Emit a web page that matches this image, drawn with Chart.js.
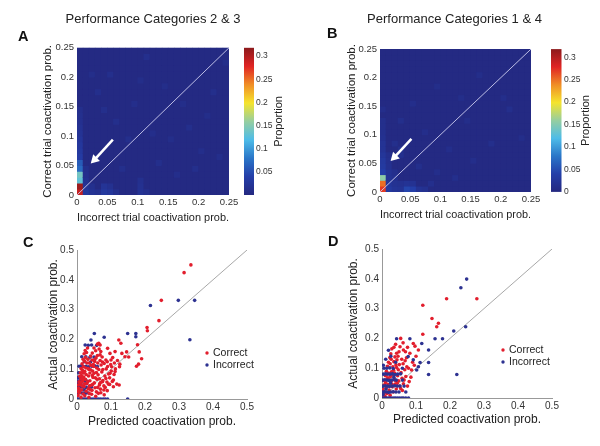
<!DOCTYPE html>
<html>
<head>
<meta charset="utf-8">
<title>Coactivation probability</title>
<script src="https://cdn.jsdelivr.net/npm/chart.js@4.4.1/dist/chart.umd.min.js"></script>
<style>
  body { margin: 0; background: #fff; }
  #fig { position: relative; width: 600px; height: 446px; overflow: hidden; font-family: "Liberation Sans", Arial, sans-serif; }
  #fig canvas { position: absolute; }
  .letter { position: absolute; font-weight: bold; font-size: 14.5px; line-height: 15px; color: #111; }
</style>
</head>
<body>
<div id="fig">
  <canvas id="heatA" width="300" height="230" style="left:0;top:0"></canvas>
  <canvas id="heatB" width="300" height="230" style="left:300px;top:0"></canvas>
  <canvas id="scatC" width="300" height="216" style="left:0;top:230px"></canvas>
  <canvas id="scatD" width="300" height="216" style="left:300px;top:230px"></canvas>
  <div class="letter" style="left:18px;top:29px">A</div>
  <div class="letter" style="left:327px;top:26px">B</div>
  <div class="letter" style="left:23px;top:235px">C</div>
  <div class="letter" style="left:328px;top:234px">D</div>
</div>
<script>
// heatmap bins (0.01 wide, 0 .. 0.25)
const binW = 0.01;
const nBins = 25;
const heatTicks = [0, 0.05, 0.1, 0.15, 0.2, 0.25];
const cbTicksA = [0.05, 0.1, 0.15, 0.2, 0.25, 0.3];
const cbTicksB = [0, 0.05, 0.1, 0.15, 0.2, 0.25, 0.3];
const cbMax = 0.318;
const scatTicks = [0, 0.1, 0.2, 0.3, 0.4, 0.5];

// proportion of every bin not listed below
const heatBaseA = 0.003;
const heatBaseB = 0.003;

// [column, row, proportion]
const heatA = [
  [0,0,0.29],[0,1,0.31],[0,2,0.13],[0,3,0.14],[0,4,0.07],[0,5,0.06],[0,6,0.035],[0,7,0.03],[0,8,0.028],
  [0,9,0.024],[0,10,0.02],[0,11,0.018],[0,12,0.015],[0,13,0.014],[0,14,0.012],
  [1,0,0.03],[1,1,0.022],[1,2,0.016],[1,3,0.013],[1,4,0.012],[2,0,0.02],[2,1,0.014],[3,0,0.016],
  [4,0,0.03],[4,1,0.022],[5,0,0.026],[5,1,0.016],[6,0,0.014],[10,0,0.02],[10,1,0.016],[10,2,0.014],[11,0,0.014],
  [3,17,0.012],[5,20,0.012],[2,20,0.01],[9,15,0.011],[11,23,0.013],[14,18,0.01],[18,11,0.012],[20,7,0.011],
  [22,17,0.012],[6,12,0.012],[13,5,0.012],[16,3,0.011],[19,4,0.012],[21,13,0.01],[8,9,0.012],[12,10,0.011],
  [24,22,0.01],[7,4,0.012],[4,14,0.012],[15,9,0.01],[23,6,0.011],[17,15,0.01],[10,19,0.01]
];
const heatB = [
  [0,0,0.27],[0,1,0.25],[0,2,0.155],[0,3,0.04],[0,4,0.032],[0,5,0.03],[0,6,0.025],[0,7,0.02],[0,8,0.02],
  [0,9,0.016],[0,10,0.014],[0,11,0.012],[0,12,0.012],[0,14,0.011],
  [1,0,0.03],[1,1,0.026],[1,2,0.02],[1,3,0.02],[1,4,0.016],[1,5,0.015],[1,6,0.013],
  [2,0,0.022],[2,1,0.018],[2,2,0.015],[2,3,0.013],[3,0,0.02],[3,1,0.016],[3,6,0.014],[3,7,0.014],
  [4,0,0.045],[5,0,0.04],[4,1,0.02],[5,1,0.018],[6,0,0.02],[7,0,0.016],[8,1,0.013],
  [2,8,0.012],[6,4,0.012],[9,3,0.011],[12,2,0.012],[15,5,0.011],[18,8,0.012],[21,14,0.012],[20,16,0.011],
  [7,10,0.011],[11,7,0.011],[14,12,0.01],[23,9,0.01],[5,15,0.011],[9,18,0.01],[16,20,0.01],[3,12,0.012],[13,16,0.01]
];

// white arrows: tail, head
const arrowA = [[0.059, 0.094], [0.029, 0.06]];
const arrowB = [[0.052, 0.093], [0.024, 0.061]];

// scatter points [predicted, actual]
const cCorrect = [
  [0.335,0.45],[0.315,0.424],[0.248,0.331],[0.241,0.263],[0.206,0.24],[0.207,0.229],[0.178,0.182],[0.123,0.198],
  [0.129,0.187],[0.19,0.135],[0.183,0.158],[0.175,0.11],[0.181,0.117],[0.152,0.141],[0.146,0.158],[0.117,0.05],[0.124,0.047],
  [0.064,0.187],[0.068,0.181],[0.09,0.17],[0.097,0.153],[0.068,0.148],[0.112,0.159],[0.119,0.129],[0.132,0.153],
  [0.141,0.142],[0.089,0.125],[0.102,0.108],[0.125,0.108],[0.126,0.117],[0.112,0.092],[0.097,0.086],[0.085,0.069],
  [0.107,0.064],[0.075,0.058],[0.066,0.047],[0.092,0.05],[0.107,0.041],[0.079,0.03],[0.063,0.019],
  [0.003,0.012],[0.007,0.021],[0.012,0.006],[0.014,0.031],[0.018,0.017],[0.021,0.042],[0.023,0.011],[0.027,0.026],
  [0.029,0.052],[0.033,0.034],[0.036,0.019],[0.038,0.061],[0.042,0.046],[0.044,0.029],[0.047,0.072],[0.051,0.054],
  [0.053,0.038],[0.057,0.024],[0.059,0.066],[0.062,0.081],[0.067,0.052],[0.069,0.033],[0.073,0.091],[0.076,0.062],
  [0.079,0.044],[0.082,0.077],[0.086,0.101],[0.088,0.057],[0.093,0.084],[0.096,0.071],[0.099,0.116],[0.101,0.094],
  [0.104,0.059],[0.109,0.082],[0.113,0.101],[0.005,0.036],[0.009,0.049],[0.011,0.067],[0.013,0.079],[0.016,0.096],
  [0.019,0.108],[0.022,0.127],[0.025,0.139],[0.028,0.156],[0.031,0.171],[0.015,0.044],[0.017,0.061],[0.02,0.074],
  [0.023,0.092],[0.026,0.104],[0.029,0.121],[0.032,0.133],[0.035,0.099],[0.038,0.087],[0.041,0.113],[0.044,0.131],
  [0.046,0.094],[0.049,0.109],[0.052,0.126],[0.056,0.138],[0.058,0.104],[0.061,0.121],[0.064,0.099],[0.068,0.129],
  [0.071,0.114],[0.074,0.141],[0.002,0.026],[0.004,0.047],[0.006,0.058],[0.008,0.076],[0.01,0.088],[0.012,0.102],
  [0.015,0.118],[0.018,0.133],[0.021,0.152],[0.024,0.163],[0.01,0.029],[0.013,0.056],[0.016,0.069],[0.019,0.087],
  [0.022,0.051],[0.025,0.066],[0.027,0.082],[0.031,0.058],[0.034,0.077],[0.037,0.044],[0.04,0.031],[0.043,0.016],
  [0.046,0.049],[0.05,0.086],[0.054,0.071],[0.057,0.089],[0.061,0.039],[0.066,0.068],[0.07,0.056],[0.076,0.099],
  [0.08,0.119],[0.083,0.039],[0.089,0.028],[0.096,0.049],[0.036,0.121],[0.033,0.102],[0.04,0.098],[0.045,0.079],
  [0.048,0.116],[0.052,0.132],[0.055,0.162],[0.06,0.146],[0.065,0.168],[0.07,0.159],[0.045,0.154],[0.04,0.144],
  [0.05,0.171],[0.06,0.184],[0.075,0.124],[0.085,0.131],[0.09,0.109],[0.1,0.131],[0.105,0.139],[0.11,0.121],
  [0.07,0.021],[0.08,0.014],[0.055,0.009],[0.035,0.006]
];
const cIncorrect = [
  [0.216,0.314],[0.298,0.331],[0.346,0.331],[0.332,0.199],[0.173,0.22],[0.173,0.209],[0.149,0.22],[0.051,0.22],
  [0.08,0.207],[0.041,0.198],[0.149,0],[0.024,0.181],[0.033,0.18],[0.043,0.181],[0.058,0.18],
  [0.014,0.142],[0.026,0.142],[0.038,0.14],[0.05,0.141],[0.022,0.125],[0.04,0.124],
  [0.006,0.11],[0.013,0.111],[0.019,0.109],[0.027,0.11],[0.035,0.108],[0.044,0.11],[0.052,0.111],[0.06,0.109],
  [0.002,0.072],[0.008,0.07],[0.014,0.071],[0.002,0.06],[0.009,0.061],[0.016,0.06],[0.024,0.06],[0.031,0.059],
  [0.004,0.04],[0.011,0.041],[0.018,0.04],[0.026,0.039],[0.035,0.04],[0.043,0.04],
  [0.003,0.02],[0.01,0.021],[0.017,0.02],[0.025,0.019],[0.033,0.02],
  [0.002,0],[0.008,0],[0.013,0],[0.019,0],[0.024,0],[0.03,0],[0.036,0],[0.041,0],[0.047,0],[0.053,0],
  [0.058,0],[0.064,0],[0.07,0],[0.077,0],[0.083,0],[0.09,0],
  [0.001,0.05],[0.007,0.031],[0.012,0.05],[0.021,0.03],[0.028,0.051],[0.005,0.088],[0.018,0.089]
];
const dCorrect = [
  [0.279,0.333],[0.19,0.333],[0.12,0.311],[0.147,0.267],[0.166,0.251],[0.161,0.239],[0.12,0.214],[0.092,0.183],
  [0.097,0.174],[0.107,0.161],[0.053,0.172],[0.063,0.161],[0.043,0.15],[0.055,0.2],[0.073,0.105],[0.087,0.094],
  [0.002,0.01],[0.005,0.022],[0.009,0.006],[0.012,0.034],[0.015,0.015],[0.018,0.045],[0.021,0.027],[0.024,0.009],
  [0.027,0.055],[0.03,0.038],[0.033,0.02],[0.036,0.064],[0.039,0.047],[0.042,0.03],[0.046,0.075],[0.049,0.058],
  [0.052,0.04],[0.056,0.085],[0.059,0.066],[0.063,0.048],[0.067,0.095],[0.07,0.072],[0.004,0.041],[0.007,0.058],
  [0.01,0.075],[0.013,0.09],[0.016,0.106],[0.019,0.12],[0.023,0.136],[0.026,0.148],[0.029,0.165],[0.032,0.105],
  [0.035,0.122],[0.038,0.138],[0.041,0.111],[0.044,0.128],[0.048,0.095],[0.051,0.112],[0.017,0.068],[0.02,0.083],
  [0.025,0.072],[0.028,0.088],[0.031,0.077],[0.034,0.093],[0.037,0.084],[0.043,0.102],[0.011,0.052],[0.014,0.062],
  [0.022,0.061],[0.03,0.045],[0.04,0.058],[0.045,0.05],[0.055,0.032],[0.06,0.025],[0.065,0.06],[0.075,0.04],
  [0.08,0.055],[0.085,0.07],[0.003,0.03],[0.006,0.016],[0.008,0.045],[0.024,0.115],[0.027,0.13],[0.047,0.14],
  [0.05,0.155],[0.058,0.13],[0.062,0.115],[0.068,0.125],[0.072,0.135],[0.078,0.1],[0.09,0.12],[0.095,0.11],
  [0.1,0.14],[0.035,0.17],[0.04,0.18],[0.062,0.185],[0.075,0.17],[0.082,0.15],[0.069,0.155]
];
const dIncorrect = [
  [0.249,0.399],[0.232,0.37],[0.211,0.225],[0.246,0.239],[0.156,0.199],[0.178,0.199],[0.043,0.199],[0.082,0.199],
  [0.117,0.183],[0.137,0.161],[0.137,0.119],[0.137,0.079],[0.22,0.079],[0.112,0.119],[0.107,0.105],[0.077,0.139],
  [0.092,0.128],[0.102,0.094],
  [0.001,0],[0.007,0],[0.012,0],[0.018,0],[0.023,0],[0.029,0],[0.035,0],[0.04,0],[0.046,0],[0.052,0],[0.058,0],
  [0.063,0],[0.07,0],[0.078,0],
  [0.002,0.02],[0.008,0.021],[0.014,0.02],[0.02,0.019],[0.026,0.02],[0.033,0.021],[0.041,0.02],
  [0.003,0.04],[0.009,0.041],[0.016,0.04],[0.022,0.039],[0.03,0.04],[0.037,0.041],[0.045,0.04],[0.053,0.04],
  [0.002,0.06],[0.008,0.061],[0.015,0.06],[0.021,0.059],[0.028,0.06],[0.035,0.061],[0.042,0.06],
  [0.004,0.08],[0.01,0.081],[0.017,0.08],[0.024,0.08],[0.031,0.081],[0.038,0.079],[0.046,0.08],[0.055,0.081],
  [0.006,0.1],[0.014,0.1],[0.023,0.101],[0.033,0.099],
  [0.011,0.13],[0.026,0.14],[0.04,0.12],[0.019,0.16],[0.06,0.1],[0.065,0.04],[0.07,0.02],[0.05,0.02],
  [0.003,0.012],[0.012,0.03],[0.025,0.05],[0.035,0.07],[0.06,0.06],[0.004,0.11]
];

Chart.defaults.font.family = '"Liberation Sans", Arial, sans-serif';
Chart.defaults.color = '#333';

const redDot = 'rgb(226,30,45)';
const blueDot = 'rgb(45,50,145)';

// jet colour map, a bit softened like the printed figure
const jetStops = [
  [0, [36, 40, 128]], [0.125, [36, 62, 168]], [0.25, [42, 118, 200]], [0.375, [78, 188, 232]],
  [0.5, [150, 206, 160]], [0.625, [245, 228, 45]], [0.75, [240, 142, 38]], [0.875, [224, 36, 36]], [1, [140, 26, 28]]
];
function jet(v) {
  const f = Math.max(0, Math.min(1, v / cbMax));
  for (let i = 1; i < jetStops.length; i++) {
    const [f0, c0] = jetStops[i - 1];
    const [f1, c1] = jetStops[i];
    if (f <= f1) {
      const t = (f - f0) / (f1 - f0);
      return 'rgb(' + c0.map((a, k) => Math.round(a + (c1[k] - a) * t)).join(',') + ')';
    }
  }
}

const fmt = v => String(+Number(v).toFixed(3));
const fixTicks = list => s => { s.ticks = list.map(v => ({ value: v })); };

function heatData(base, cells) {
  const vals = {};
  cells.forEach(([c, r, v]) => { vals[c + ',' + r] = v; });
  const pts = [];
  for (let c = 0; c < nBins; c++) {
    for (let r = 0; r < nBins; r++) {
      const v = vals[c + ',' + r] ?? base;
      pts.push({ x: (c + 0.5) * binW, y: [r * binW, (r + 1) * binW], v: v });
    }
  }
  return pts;
}

// fill the plot area with the base colour so no seams show between cells
const heatBackPlugin = {
  id: 'heatBack',
  beforeDatasetsDraw(chart, args, opts) {
    const a = chart.chartArea;
    chart.ctx.save();
    chart.ctx.fillStyle = jet(opts.base);
    chart.ctx.fillRect(a.left, a.top, a.right - a.left, a.bottom - a.top);
    chart.ctx.restore();
  }
};

// colour bar next to the heat map, hung on the 'yc' scale
const colorbarPlugin = {
  id: 'colorbar',
  afterDraw(chart, args, opts) {
    const sc = chart.scales.yc;
    const ctx = chart.ctx;
    const top = sc.getPixelForValue(sc.max);
    const bot = sc.getPixelForValue(0);
    const g = ctx.createLinearGradient(0, bot, 0, top);
    jetStops.forEach(([f, c]) => g.addColorStop(f, 'rgb(' + c.join(',') + ')'));
    ctx.save();
    ctx.fillStyle = g;
    ctx.fillRect(sc.left + opts.offset, top, opts.width, bot - top);
    ctx.translate(sc.left + opts.titleX, (top + bot) / 2);
    ctx.rotate(-Math.PI / 2);
    ctx.font = '11px "Liberation Sans", Arial, sans-serif';
    ctx.fillStyle = '#222';
    ctx.textAlign = 'center';
    ctx.textBaseline = 'middle';
    ctx.fillText(opts.title, 0, 0);
    ctx.restore();
  }
};

// small dot legend inside the scatter plots
const dotLegendPlugin = {
  id: 'dotLegend',
  afterDraw(chart, args, opts) {
    const ctx = chart.ctx;
    let y = opts.y;
    ctx.save();
    ctx.font = '10.5px "Liberation Sans", Arial, sans-serif';
    ctx.textBaseline = 'middle';
    chart.data.datasets.filter(d => d.label).forEach(d => {
      ctx.fillStyle = d.backgroundColor;
      ctx.beginPath();
      ctx.arc(opts.x, y, 1.7, 0, Math.PI * 2);
      ctx.fill();
      ctx.fillStyle = '#222';
      ctx.fillText(d.label, opts.x + 6, y);
      y += opts.lineH;
    });
    ctx.restore();
  }
};

function heatChart(id, title, base, cells, arrow, cbTicks, lay) {
  const pts = heatData(base, cells);
  return new Chart(document.getElementById(id), {
    type: 'bar',
    data: {
      datasets: [
        {
          type: 'line', data: arrow.map(([x, y]) => ({ x, y })), borderColor: '#fff', borderWidth: 2.5,
          pointRadius: [0, 5.5], pointStyle: 'triangle', pointRotation: 225,
          pointBackgroundColor: '#fff', pointBorderWidth: 0, order: 1
        },
        {
          type: 'line', data: [{ x: 0, y: 0 }, { x: 0.25, y: 0.25 }], borderColor: 'rgba(205,205,240,0.9)',
          borderWidth: 1, pointRadius: 0, order: 2
        },
        {
          type: 'bar', data: pts, backgroundColor: pts.map(p => jet(p.v)), borderWidth: 0,
          barPercentage: 1, categoryPercentage: 1, order: 3
        }
      ]
    },
    options: {
      responsive: false,
      animation: false,
      events: [],
      layout: { padding: { left: lay.padL, right: 0, top: 0, bottom: 0 } },
      plugins: {
        legend: { display: false },
        tooltip: { enabled: false },
        title: {
          display: true, text: title, color: '#222', font: { size: 13, weight: 'normal' },
          padding: { top: 12, bottom: lay.titleBottom }
        },
        heatBack: { base: base },
        colorbar: { offset: lay.cbOffset, width: lay.cbBarW, titleX: lay.cbTitleX, title: 'Proportion' }
      },
      scales: {
        x: {
          type: 'linear', min: 0, max: 0.25, offset: false,
          grid: { display: false, drawTicks: false, offset: false }, border: { display: false },
          afterBuildTicks: fixTicks(heatTicks),
          afterFit: s => { s.height = 35; },
          ticks: { padding: 2, autoSkip: false, maxRotation: 0, font: { size: 9.5 }, callback: fmt },
          title: {
            display: true, text: 'Incorrect trial coactivation prob.', color: '#222',
            font: { size: 11.5 }, padding: { top: 0, bottom: 5 }
          }
        },
        y: {
          type: 'linear', min: 0, max: 0.25,
          grid: { display: false, drawTicks: false }, border: { display: false },
          afterBuildTicks: fixTicks(heatTicks),
          afterFit: s => { s.width = 71; },
          ticks: { padding: 3, autoSkip: false, font: { size: 9.5 }, callback: fmt },
          title: {
            display: true, text: 'Correct trial coactivation prob.', color: '#222',
            font: { size: 11.5 }, padding: { top: lay.yTitlePad, bottom: 0 }
          }
        },
        yc: {
          type: 'linear', position: 'right', min: 0, max: cbMax,
          grid: { display: false, drawTicks: false }, border: { display: false },
          afterBuildTicks: fixTicks(cbTicks),
          afterFit: s => { s.width = lay.cbWidth; },
          ticks: { padding: lay.cbPad, autoSkip: false, font: { size: 8.5 }, callback: fmt }
        }
      }
    },
    plugins: [heatBackPlugin, colorbarPlugin]
  });
}

function scatChart(id, correct, incorrect, lay) {
  return new Chart(document.getElementById(id), {
    type: 'scatter',
    data: {
      datasets: [
        {
          label: 'Correct', data: correct.map(([x, y]) => ({ x, y })), backgroundColor: redDot, borderColor: redDot,
          borderWidth: 0, pointRadius: 1.8, order: lay.redOrder
        },
        {
          label: 'Incorrect', data: incorrect.map(([x, y]) => ({ x, y })), backgroundColor: blueDot, borderColor: blueDot,
          borderWidth: 0, pointRadius: 1.8, order: lay.blueOrder
        },
        {
          type: 'line', data: [{ x: 0, y: 0 }, { x: 0.5, y: 0.5 }], borderColor: '#a8a8a8',
          borderWidth: 1, pointRadius: 0, order: 5
        }
      ]
    },
    options: {
      responsive: false,
      animation: false,
      events: [],
      layout: { padding: { left: 0, right: lay.padR, top: lay.padT, bottom: 0 } },
      plugins: {
        legend: { display: false },
        tooltip: { enabled: false },
        dotLegend: { x: lay.legX, y: lay.legY, lineH: 12 }
      },
      scales: {
        x: {
          type: 'linear', min: 0, max: 0.5,
          grid: { display: false, drawTicks: false }, border: { display: true, color: '#999' },
          afterBuildTicks: fixTicks(scatTicks),
          afterFit: s => { s.height = lay.xH; },
          ticks: { padding: 2, autoSkip: false, maxRotation: 0, font: { size: 10 }, callback: fmt },
          title: {
            display: true, text: 'Predicted coactivation prob.', color: '#222',
            font: { size: 12 }, padding: { top: 0, bottom: lay.xTitlePad }
          }
        },
        y: {
          type: 'linear', min: 0, max: 0.5,
          grid: { display: false, drawTicks: false }, border: { display: true, color: '#999' },
          afterBuildTicks: fixTicks(scatTicks),
          afterFit: s => { s.width = lay.yW; },
          ticks: { padding: 3, autoSkip: false, font: { size: 10 }, callback: fmt },
          title: {
            display: true, text: 'Actual coactivation prob.', color: '#222',
            font: { size: 12 }, padding: { top: 46, bottom: 0 }
          }
        }
      }
    },
    plugins: [dotLegendPlugin]
  });
}

heatChart('heatA', 'Performance Categories 2 & 3', heatBaseA, heatA, arrowA, cbTicksA,
  { padL: 6, titleBottom: 20.2, yTitlePad: 34.6, cbWidth: 71, cbOffset: 15, cbBarW: 10, cbPad: 27, cbTitleX: 50 });
heatChart('heatB', 'Performance Categories 1 & 4', heatBaseB, heatB, arrowB, cbTicksB,
  { padL: 9, titleBottom: 21.5, yTitlePad: 36, cbWidth: 69, cbOffset: 20, cbBarW: 10.5, cbPad: 33, cbTitleX: 55 });
scatChart('scatC', cCorrect, cIncorrect,
  { padR: 53, padT: 20, xH: 47, yW: 77, xTitlePad: 17, legX: 207, legY: 123, redOrder: 1, blueOrder: 2 });
scatChart('scatD', dCorrect, dIncorrect,
  { padR: 48, padT: 19, xH: 48, yW: 82, xTitlePad: 19, legX: 203, legY: 120, redOrder: 2, blueOrder: 1 });
</script>
</body>
</html>
